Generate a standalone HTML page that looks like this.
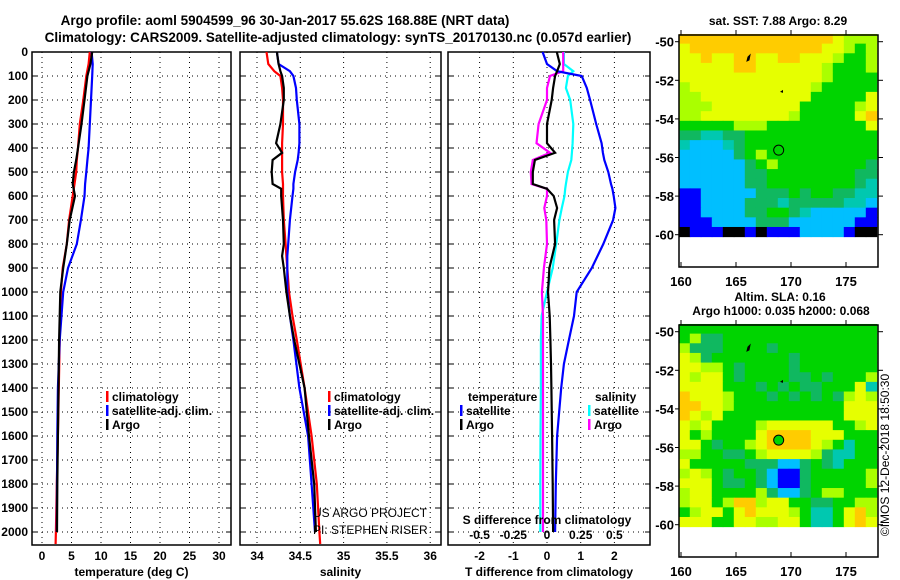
<!DOCTYPE html>
<html><head><meta charset="utf-8"><style>
html,body{margin:0;padding:0;background:#fff;}
svg{display:block;font-family:"Liberation Sans",sans-serif;}
.b{font-weight:bold;font-size:12px;}
</style></head><body>
<svg id="svg" width="900" height="580" viewBox="0 0 900 580">
<text x="285" y="25" text-anchor="middle" class="b" style="font-size:13.5px">Argo profile: aoml 5904599_96 30-Jan-2017 55.62S 168.88E (NRT data)</text>
<text x="338" y="42" text-anchor="middle" class="b" style="font-size:13.5px">Climatology: CARS2009. Satellite-adjusted climatology: synTS_20170130.nc (0.057d earlier)</text>
<text x="778" y="25" text-anchor="middle" class="b">sat. SST: 7.88 Argo: 8.29</text>
<text x="780" y="301" text-anchor="middle" class="b">Altim. SLA: 0.16</text>
<text x="781" y="315" text-anchor="middle" class="b">Argo h1000: 0.035 h2000: 0.068</text>
<text transform="translate(889,455) rotate(-90)" text-anchor="middle" style="font-size:12px">©IMOS 12-Dec-2018 18:50:30</text>
<g id="g"></g>
</svg>
<script>
// ---- profile data ----
const depthT = [0,50,100,200,300,400,450,500,550,600,700,800,900,1000,1200,1400,1600,1800,2000,2050];
const tempClim = [8.1,7.9,7.5,7.0,6.4,6.1,5.9,5.8,5.5,5.2,4.6,4.2,3.5,3.2,3.0,2.85,2.7,2.5,2.35,2.3];
const tempSat = [8.4,8.6,8.5,8.3,8.1,7.9,7.7,7.5,7.3,7.2,6.6,5.9,4.4,3.6,3.0,2.7,2.6,2.55,2.5,null];
const tempArgo = [8.5,8.2,7.7,7.2,6.7,6.1,5.8,5.4,5.2,5.6,4.7,4.2,3.6,3.1,2.9,2.8,2.7,2.6,2.55,null];
const depthS = [0,50,80,100,150,200,300,380,420,450,500,550,570,600,700,800,850,900,1000,1100,1200,1400,1600,1800,2000,2050];
const salClim = [34.11,34.13,34.2,34.27,34.29,34.30,34.30,34.29,34.29,34.29,34.29,34.30,34.30,34.30,34.31,34.33,34.34,34.35,34.37,34.41,34.46,34.55,34.63,34.69,34.72,34.73];
const salSat = [34.23,34.25,34.38,34.42,34.45,34.46,34.49,34.49,34.48,34.47,34.44,34.42,34.42,34.41,34.38,34.36,34.35,34.35,34.35,34.38,34.42,34.49,34.59,34.63,34.67,null];
const salArgo = [34.23,34.25,34.27,34.29,34.31,34.31,34.27,34.22,34.29,34.18,34.17,34.18,34.28,34.28,34.30,34.31,34.29,34.31,34.34,34.38,34.43,34.55,34.60,34.66,34.68,null];
const depthD = [0,50,80,100,150,200,300,380,420,450,500,550,570,600,650,700,800,900,1000,1100,1200,1300,1400,1600,1800,2000];
const dTsat = [-0.13,0.0,0.3,1.03,1.18,1.28,1.46,1.62,1.66,1.7,1.82,1.9,1.94,1.98,2.03,1.96,1.67,1.33,0.88,0.8,0.65,0.5,0.42,0.3,0.26,0.24];
const dTargo = [0.29,0.38,0.3,0.24,0.18,0.14,0.0,0.0,0.24,-0.36,-0.42,-0.42,0.0,0.2,0.3,0.21,0.24,0.07,0.03,0.08,0.1,0.12,0.13,0.15,0.17,0.18];
const dSsat = [0.125,0.125,0.195,0.155,0.14,0.172,0.195,0.19,0.185,0.18,0.155,0.14,0.135,0.13,0.11,0.092,0.068,0.042,0.0,-0.04,-0.045,-0.045,-0.045,-0.048,-0.05,-0.05];
const dSargo = [0.12,0.12,0.12,0.022,0.0,0.0,-0.062,-0.078,0.022,-0.105,-0.12,-0.115,0.0,0.0,-0.02,-0.005,0.0,-0.023,-0.038,-0.03,-0.03,-0.03,-0.03,-0.03,-0.03,-0.03];
const depthTicks = [0,100,200,300,400,500,600,700,800,900,1000,1100,1200,1300,1400,1500,1600,1700,1800,1900,2000];
const tTicks = [0,5,10,15,20,25,30];
const sTicks = [34,34.5,35,35.5,36];
const dTicks = [-2,-1,0,1,2];
const dsTicks = [-0.5,-0.25,0,0.25,0.5];
// ---- map data (cols lon 160..177, rows lat -49.6.. step 0.5) ----
const sstRows = [
"OOOOOOOOOOOOOOYLLL","YOOOOOOOOOOOOYYLGL","YYOYYOOYYOOYYYLGGL","YYYYYOOYYYYYYLGGGL",
"YYYYYYYYYYYYYLGGGG","LYYYYYYYYYYYLGGGGG","LLYYYYYYYYYYGGGGGY","LLLYYYYYYYYGGGGGLY",
"LLYYYYYYYYLGGGGGYO","GGGGGLLLGGGGGGGGGY","DDTTDDGGGGGGGGGGGG","TCCCTDGGGGGGGGGGGG",
"CCCCCDGLGGGGGGGGGG","CCCCCCDGLGGGGGGGGD","CCCCCCDDGGGGGGGGDD","CCCCCCDDGGGGGGGGDT",
"BBCCCCCDDDGDGGDDTT","BBCCCCDDDTDDDDDTTC","BBCCCCDDGGDTCCCCCB","BBBCCCCDDDCCCCCCBB",
"KBBBKKBKBBBCCCCBKK"];
const slaRows = [
"GGGGGGGGGGGGGGGGGG","GLDDGGGGGGGGGGGGGG","LDDDGGGGDGGGGGGGGG","YLDGGGGGGGDGGGGGGG",
"YYLLGDGGGGDGGGGGGG","YLYYGDGGGGDDGDGGGL","YYYYGGGDGDGDDGGGYT","OYYYLGGGDGDGDGDLYL",
"OOYYLGGGGGGGGGGYYY","OYLYGGGGGGGGGGGYYY","YLYGGGGLYYYYYYGGLY","YGLGGGGYOOOOYYYGGG",
"YYGDGGLYOOOOYLGTGG","LLGGDDGLYYYYLDTTGG","YGGGGGDDDCCDGDTGGG","LYLGDGGDCBBDGGGGGL",
"YYYGDDGDCBBDGGGGGL","LYYGGGGLDCCDGLLGGG","LYYGLOOLYYGGDDGGLL","GLYYGYOYYYLGTTGYOL",
"YYYGGYYLLYYGTTGYOY"];
const lonTicks = [160,165,170,175];
const latTicks = [-50,-52,-54,-56,-58,-60];
const argoLon = 168.88, argoLat = -55.62;

const NS="http://www.w3.org/2000/svg";
const G=document.getElementById('g');
function el(t,a,p){const e=document.createElementNS(NS,t);for(const k in a)e.setAttribute(k,a[k]);(p||G).appendChild(e);return e;}
const Y0=52, YS=0.24, PB=545;
const yD=d=>Y0+d*YS;
const panels=[
 {x0:32,x1:231,f:v=>42+v*5.9,ticks:tTicks,lab:'temperature (deg C)',name:'temperature'},
 {x0:240,x1:441,f:v=>257+(v-34)*86.6,ticks:sTicks,lab:'salinity',name:'salinity'},
 {x0:448,x1:650,f:v=>547+v*33.7,ticks:dTicks,lab:'T difference from climatology',name:'difference'}
];
panels.forEach((p,i)=>{
 const r=el('rect',{x:p.x0,y:Y0,width:p.x1-p.x0,height:PB-Y0,fill:'#fff',stroke:'#000','stroke-width':1.5});
 
 
 depthTicks.forEach(d=>{
  if(d>0){const l=el('line',{x1:p.x0,x2:p.x1,y1:yD(d),y2:yD(d),stroke:'#000','stroke-dasharray':'1,4'});
  
  }
  el('line',{x1:p.x0,x2:p.x0+5,y1:yD(d),y2:yD(d),stroke:'#000'});
  el('line',{x1:p.x1-5,x2:p.x1,y1:yD(d),y2:yD(d),stroke:'#000'});
  if(i==0){const t=el('text',{x:p.x0-4,y:yD(d)+4,'text-anchor':'end',class:'b'});t.textContent=d;
  
  }
 });
 p.ticks.forEach(v=>{
  const x=p.f(v);
  const l=el('line',{x1:x,x2:x,y1:Y0,y2:PB,stroke:'#000','stroke-dasharray':'1,4'});
  
  
  const t=el('text',{x:x,y:560,'text-anchor':'middle',class:'b'});t.textContent=v;
  
  
 });
 const t=el('text',{x:(p.x0+p.x1)/2,y:576,'text-anchor':'middle',class:'b'});t.textContent=p.lab;
 
 
});
function line(f,vals,depths,color,name){
 const pts=[];vals.forEach((v,i)=>{if(v!==null)pts.push(f(v).toFixed(1)+','+yD(depths[i]).toFixed(1));});
 const l=el('polyline',{points:pts.join(' '),fill:'none',stroke:color,'stroke-width':2.2});
 
 
}
const P=panels;
line(P[0].f,tempClim,depthT,'#f00','temp-climatology-line');
line(P[0].f,tempSat,depthT,'#00f','temp-satellite-line');
line(P[0].f,tempArgo,depthT,'#000','temp-argo-line');
line(P[1].f,salClim,depthS,'#f00','sal-climatology-line');
line(P[1].f,salSat,depthS,'#00f','sal-satellite-line');
line(P[1].f,salArgo,depthS,'#000','sal-argo-line');
const fS=v=>P[2].f(v*4);
line(fS,dSsat,depthD,'#0ff','sdiff-satellite-line');
line(fS,dSargo,depthD,'#f0f','sdiff-argo-line');
line(P[2].f,dTsat,depthD,'#00f','tdiff-satellite-line');
line(P[2].f,dTargo,depthD,'#000','tdiff-argo-line');
dsTicks.forEach(v=>{const t=el('text',{x:fS(v),y:539,'text-anchor':'middle',class:'b'});t.textContent=v;
 
 });
{const t=el('text',{x:547,y:524,'text-anchor':'middle',class:'b'});t.textContent='S difference from climatology';
 
 }
function leg(x,y,c,txt,anchor){
 el('rect',{x:x,y:y-10,width:2.5,height:11,fill:c});
 const t=el('text',{x:x+6,y:y,class:'b'});t.textContent=txt;
 
 
}
[[106,'#f00','climatology'],[106,'#00f','satellite-adj. clim.'],[106,'#000','Argo']].forEach((e,i)=>leg(e[0],401+i*14,e[1],e[2]));
[[328,'#f00','climatology'],[328,'#00f','satellite-adj. clim.'],[328,'#000','Argo']].forEach((e,i)=>leg(e[0],401+i*14,e[1],e[2]));
{const t=el('text',{x:468,y:401,class:'b'});t.textContent='temperature';}
{const t=el('text',{x:595,y:401,class:'b'});t.textContent='salinity';}
leg(460,415,'#00f','satellite');leg(460,429,'#000','Argo');
leg(588,415,'#0ff','satellite');leg(588,429,'#f0f','Argo');
{const t=el('text',{x:313,y:517,style:'font-size:12px'});t.textContent='US ARGO PROJECT';}
{const t=el('text',{x:313,y:534,style:'font-size:12px'});t.textContent='PI: STEPHEN RISER';}
// ---- maps ----
const COL={O:'#ffcc00',Y:'#e6ff00',L:'#aaff00',G:'#00d400',D:'#10b860',T:'#00c8b0',C:'#00bfff',B:'#0000ff',K:'#000'};
function map(top,rows,name){
 const X0=679,X1=878,B=top+232;
 const fx=lon=>681+(lon-160)*11, fy=lat=>top+6.7+(-50-lat)*19.3;
 rows.forEach((row,r)=>{[...row].forEach((ch,c)=>{
  const lat0=-49.6-r*0.5, lat1=lat0-0.5;
  const x0=Math.max(X0,fx(160+c-0.2)), x1=Math.min(X1,fx(161+c-0.2));
  const cell=el('rect',{x:x0,y:fy(lat0),width:x1-x0+0.5,height:fy(lat1)-fy(lat0)+0.5,fill:COL[ch]});
  
  
 });});
 const fr=el('rect',{x:X0,y:top,width:X1-X0,height:B-top,fill:'none',stroke:'#000','stroke-width':1.5});
 
 
 lonTicks.forEach(v=>{el('line',{x1:fx(v),x2:fx(v),y1:B,y2:B-5,stroke:'#000'});el('line',{x1:fx(v),x2:fx(v),y1:top,y2:top-5,stroke:'#000'});
  const t=el('text',{x:fx(v),y:B+19,'text-anchor':'middle',class:'b',style:'font-size:13px'});t.textContent=v;
  });
 latTicks.forEach(v=>{el('line',{x1:X0-4,x2:X0,y1:fy(v),y2:fy(v),stroke:'#000'});el('line',{x1:X1,x2:X1+5,y1:fy(v),y2:fy(v),stroke:'#000'});
  const t=el('text',{x:X0-5,y:fy(v)+5,'text-anchor':'end',class:'b',style:'font-size:13px'});t.textContent=v;
  });
 el('path',{d:`M${fx(166)} ${fy(-51)} l1 -4 l2 -2 l-1 5 z`,fill:'#000',stroke:'#000'});
 el('path',{d:`M${fx(169)} ${fy(-52.6)} l3 -2 l0 3 z`,fill:'#000'});
 const m=el('circle',{cx:fx(argoLon),cy:fy(argoLat),r:5,fill:'#00d400',stroke:'#000','stroke-width':1});
 
 
}
map(35,sstRows,'sst-map');
map(325,slaRows,'sla-map');
</script>
</body></html>
